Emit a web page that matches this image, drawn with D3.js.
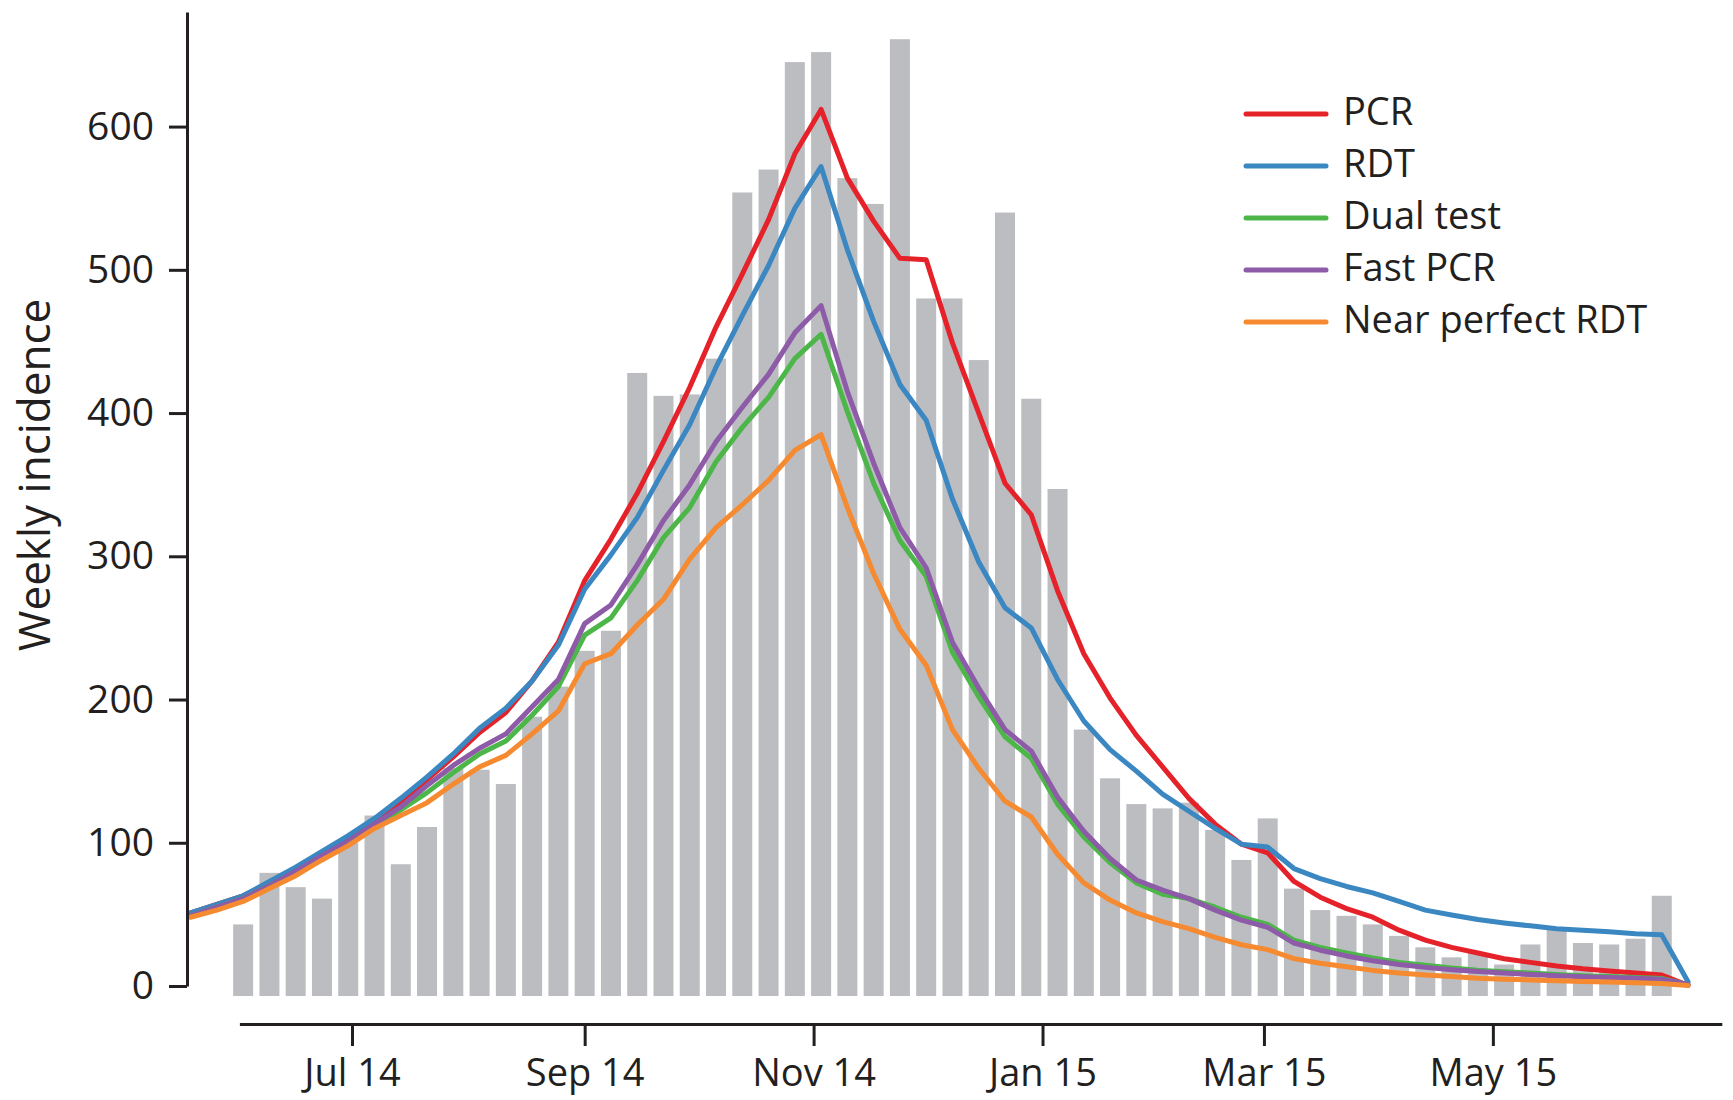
<!DOCTYPE html>
<html lang="en">
	<head>
		<meta charset="utf-8">
		<title>Weekly incidence</title>
		<style type="text/css">
			body {
				margin: 0;
				background: #ffffff;
			}
			text {
				font-family: "Open Sans", "Noto Sans", sans-serif;
				fill: #231f20;
			}
			.axis path, .axis line {
				stroke: #231f20;
				stroke-width: 3px;
			}
		</style>
		<script type="text/javascript" src="https://cdn.jsdelivr.net/npm/d3@7"></script>
	</head>
	<body>
		<script type="text/javascript">
			//Width and height
			var w = 1733;
			var h = 1100;

			//Week starts (Mondays): bars run from 2 Jun 2014, model lines start 2 weeks earlier
			var lineWeeks = d3.utcMonday.range(new Date("2014-05-19"), new Date("2015-06-23"));
			var barWeeks = d3.utcMonday.range(new Date("2014-06-02"), new Date("2015-06-16"));

			//Observed weekly incidence (grey bars)
			var observed = [43, 79, 69, 61, 100, 119, 85, 111, 152, 151, 141, 188, 209, 234,
				248, 428, 412, 413, 438, 554, 570, 645, 652, 564, 546, 661, 480, 480, 437, 540,
				410, 347, 179, 145, 127, 124, 128, 109, 88, 117, 68, 53, 49, 43, 35, 27, 20,
				23, 15, 29, 40, 30, 29, 33, 63];

			//Model scenarios
			var pcr = [51, 57, 63, 72, 82, 93, 104, 116, 128, 144, 160, 177, 191, 213, 240, 283,
				312, 344, 380, 418, 460, 497, 535, 581, 612,
				564, 534, 508, 507, 449, 400, 351, 329,
				276, 232, 201, 175, 153,
				131, 113, 99, 93, 73, 62, 54, 48, 39, 32,
				27, 23, 19, 16.5, 14, 12, 10.5, 9, 7.7, 0.5];
			var rdt = [51, 57, 63, 73, 83, 94, 105, 117, 131, 146, 162, 180, 194, 213, 238, 277,
				301, 327, 360, 392, 432, 468, 503, 543, 572,
				514, 464, 420, 395, 340, 296, 264, 250,
				214, 185, 165, 150, 134,
				122, 110, 99, 97, 82, 75, 69.5, 65, 59, 53,
				49.6, 46.4, 44, 42, 40, 39, 37.8, 36.4, 35.7, 3];
			var dualTest = [49, 55, 61, 70, 79, 89, 99, 111, 123, 135, 149, 162, 171, 189, 209, 245,
				257, 283, 313, 334, 366, 390, 411, 438, 455,
				401, 351, 311, 286, 233, 202, 174, 159,
				127, 104, 86, 72, 64,
				61, 55, 48, 43, 32, 27, 23, 19.5, 16.5, 14.5,
				12.5, 11, 10, 9, 8, 7.2, 6.6, 6, 5.2, 1];
			var fastPcr = [49, 55, 61, 70, 80, 91, 101, 113, 125, 140, 154, 166, 176, 195, 214, 253,
				266, 294, 325, 350, 380, 404, 427, 456, 475,
				415, 365, 320, 292, 240, 208, 179, 164,
				132, 108, 89, 74, 67,
				61, 53, 46, 41, 30, 25, 21, 17.6, 15, 13,
				11.4, 10.2, 9, 8, 7.2, 6.4, 5.9, 5.4, 4.7, 1];
			var nearPerfectRdt = [48, 53, 59, 68, 77, 88, 98, 110, 119, 128, 141, 153, 161, 176, 192, 225,
				232, 252, 270, 298, 320, 336, 353, 374, 385,
				334, 288, 249, 224, 179, 152, 129, 118,
				92, 72, 60, 51, 45,
				40, 34, 28.8, 25.4, 19.1, 15.9, 13.4, 10.9, 9.1, 7.7,
				6.7, 5.4, 4.7, 4.2, 3.7, 3.2, 2.8, 2.2, 1.7, 0.3];

			//Legend labels and axis ticks
			var seriesNames = ["PCR", "RDT", "Dual test", "Fast PCR", "Near perfect RDT"];
			var seriesValues = [pcr, rdt, dualTest, fastPcr, nearPerfectRdt];
			var yTicks = [0, 100, 200, 300, 400, 500, 600];
			var xTicks = ["2014-07-01", "2014-09-01", "2014-11-01", "2015-01-01", "2015-03-01", "2015-05-01"];

			var colors = ["#e52229", "#3a87c2", "#4cb748", "#8d5ba7", "#f58a30"];

			//Create scale functions
			var xScale = d3.scaleUtc()
						   .domain([new Date("2014-06-01"), new Date("2015-07-01")])
						   .range([239.4, 1721.8]);
			var yScale = d3.scaleLinear()
						   .domain([0, 680])
						   .range([986, 12]);
			var yAxisX = 187;
			var barWidth = 20;
			var barDrop = 10;	//bars hang a little below the zero line

			//Create SVG element
			var svg = d3.select("body")
						.append("svg")
						.attr("width", w)
						.attr("height", h);

			//Create bars
			svg.append("g")
			   .selectAll("rect")
			   .data(observed)
			   .enter()
			   .append("rect")
			   .attr("x", function(d, i) { return xScale(barWeeks[i]) - barWidth / 2; })
			   .attr("y", function(d) { return yScale(d); })
			   .attr("width", barWidth)
			   .attr("height", function(d) { return yScale(0) + barDrop - yScale(d); })
			   .attr("fill", "#bcbdc1");

			//Create lines
			var line = d3.line()
						 .x(function(d, i) { return xScale(lineWeeks[i]); })
						 .y(function(d) { return yScale(d); });

			svg.append("g")
			   .selectAll("path")
			   .data(seriesValues)
			   .enter()
			   .append("path")
			   .attr("d", line)
			   .attr("fill", "none")
			   .attr("stroke", function(d, i) { return colors[i]; })
			   .attr("stroke-width", 5)
			   .attr("stroke-linejoin", "round")
			   .attr("stroke-linecap", "round");

			//Define Y axis
			var yAxis = d3.axisLeft(yScale)
						  .tickValues(yTicks)
						  .tickSize(18)
						  .tickSizeOuter(0)
						  .tickPadding(15);

			//Create Y axis
			svg.append("g")
			   .attr("class", "y axis")
			   .attr("transform", "translate(" + yAxisX + ",0)")
			   .call(yAxis)
			   .call(function(g) {
			   		g.selectAll("text").attr("font-size", 39).attr("fill", "#231f20");
			   });

			//Define X axis
			var xAxis = d3.axisBottom(xScale)
						  .tickValues(xTicks.map(function(d) { return new Date(d); }))
						  .tickFormat(d3.utcFormat("%b %y"))
						  .tickSize(22)
						  .tickSizeOuter(0)
						  .tickPadding(13);

			//Create X axis
			svg.append("g")
			   .attr("class", "x axis")
			   .attr("transform", "translate(0,1024)")
			   .call(xAxis)
			   .call(function(g) {
			   		g.selectAll("text").attr("font-size", 38).attr("fill", "#231f20");
			   });

			svg.selectAll(".axis").attr("font-family", null);

			//Y axis title
			svg.append("text")
			   .attr("transform", "translate(50,475) rotate(-90)")
			   .attr("text-anchor", "middle")
			   .attr("font-size", 44)
			   .text("Weekly incidence");

			//Legend
			var legend = svg.append("g")
							.selectAll("g")
							.data(seriesNames)
							.enter()
							.append("g")
							.attr("transform", function(d, i) { return "translate(1246," + (114 + i * 52) + ")"; });
			legend.append("line")
				  .attr("x1", 0)
				  .attr("x2", 80)
				  .attr("stroke", function(d, i) { return colors[i]; })
				  .attr("stroke-width", 5)
				  .attr("stroke-linecap", "round");
			legend.append("text")
				  .attr("x", 97)
				  .attr("y", 11)
				  .attr("font-size", 38)
				  .text(function(d) { return d; });
		</script>
	</body>
</html>
